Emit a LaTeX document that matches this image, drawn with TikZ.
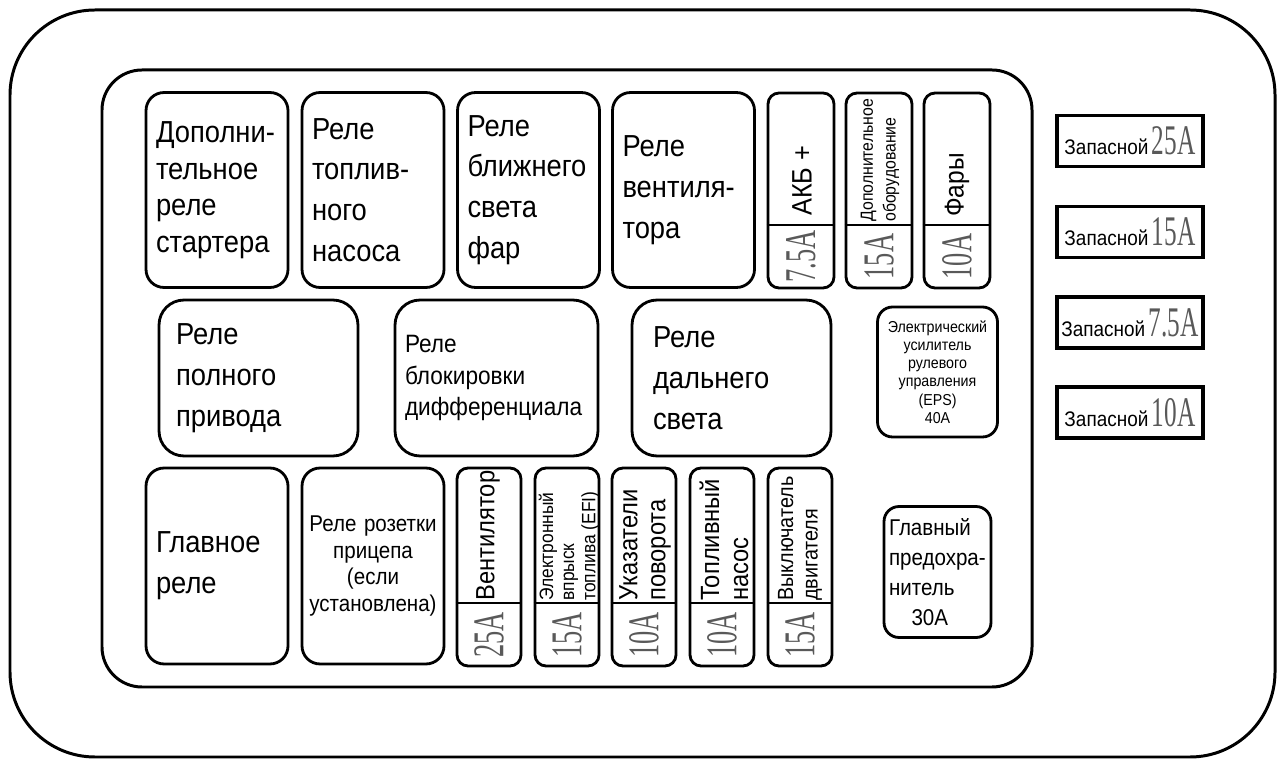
\documentclass[tikz,border=0pt]{standalone}
\usepackage{fontspec}
\setmainfont[FakeStretch=0.9]{Liberation Sans}
\newfontfamily\ampfont[FakeStretch=0.6]{Liberation Serif}

\tikzset{
    frame/.style={draw, line width=1.7pt},
    relay/.style={draw, line width=1.6pt, rounded corners=0.36cm, inner xsep=0.2cm, inner ysep=0pt,
        align=left, text width=2.44cm, minimum width=2.84cm, minimum height=3.9cm,
        font=\fontsize{17.3}{23.2}\selectfont},
    midrelay/.style={relay, rounded corners=0.5cm, minimum width=3.98cm, minimum height=3.12cm},
    fuse/.style={draw, line width=1.6pt, rounded corners=0.22cm, inner sep=0pt},
    amp/.style={rotate=90, inner sep=0pt, text=black!65, font=\ampfont\fontsize{25}{25}\selectfont},
    fusetxt/.style={rotate=90, anchor=west, align=left, inner sep=0pt},
    spare/.style={draw, line width=2.2pt, inner sep=0pt, minimum width=2.92cm, minimum height=1.02cm,
        font=\fontsize{12}{14}\selectfont},
}

\begin{document}
\begin{tikzpicture}[x=0.02cm, y=-0.02cm]

        \useasboundingbox (0,0) rectangle (1277,759);

        \draw[frame, rounded corners=1.7cm] (10,10) rectangle (1275,757);
        \draw[frame, rounded corners=0.8cm] (102,70) rectangle (1032,687);

        % top row
        \node[relay, font=\fontsize{17.3}{20.8}\selectfont] (startrel) at (217,190) {Дополни-\\тельное\\реле\\стартера};
        \node[relay] (fuelrel) at (373,190) {Реле\\топлив-\\ного\\насоса};
        \node[relay] (lowrel) at (528.5,190) {Реле\\ближнего\\света\\фар};
        \node[relay] (fanrel) at (683.5,190) {Реле\\вентиля-\\тора};

        \foreach \n/\x/\a in {%
            akb/801/7.5A,
            aux/879/15A,
            head/957/10A%
        }{
            \node[fuse, minimum width=1.32cm, minimum height=3.9cm] (\n) at (\x,190.5) {};
            \draw[line width=1.4pt] (\n.west |- 0,225) -- (\n.east |- 0,225);
            \node[amp] at (\x,256.5) {\a};
        }
        \node[fusetxt, font=\fontsize{16}{16}\selectfont] at (802,216) {АКБ +};
        \node[fusetxt, font=\fontsize{10}{13}\selectfont] at (880,222) {Дополнительное\\оборудование};
        \node[fusetxt, font=\fontsize{15.5}{16}\selectfont] at (957,217) {Фары};

        % middle row
        \node[midrelay, text width=3.3cm] (awdrel) at (258.5,378) {Реле\\полного\\привода};
        \node[midrelay, text width=3.66cm, font=\fontsize{14.3}{17.9}\selectfont] (diffrel) at (496.5,378) {Реле\\блокировки\\дифференциала};
        \node[midrelay, text width=3.14cm] (highrel) at (731.5,378) {Реле\\дальнего\\света};
        \node[relay, rounded corners=0.3cm, minimum width=2.14cm, minimum height=2.6cm, text width=2cm, align=center,
            font=\fontsize{9}{10.4}\selectfont] (eps) at (937.5,372) {Электрический\\усилитель\\рулевого\\управления\\(EPS)\\40A};

        % bottom row
        \node[relay, minimum height=3.92cm] (mainrel) at (217,566) {Главное\\реле};
        \node[relay, minimum height=3.92cm, text width=2.7cm, inner xsep=0.07cm, align=center,
            font=\fontsize{13}{15.3}\selectfont] (trailrel) at (373,566) {Реле розетки\\прицепа\\(если\\установлена)};

        \foreach \n/\x/\a in {%
            fan/489/25A,
            efi/567/15A,
            turn/644/10A,
            pump/722/10A,
            ign/800/15A%
        }{
            \node[fuse, minimum width=1.28cm, minimum height=3.96cm] (\n) at (\x,567) {};
            \draw[line width=1.4pt] (\n.west |- 0,603) -- (\n.east |- 0,603);
            \node[amp] at (\x,635) {\a};
        }
        \node[fusetxt, font=\fontsize{15}{16}\selectfont] at (488,601) {Вентилятор};
        \node[fusetxt, font=\fontsize{11}{12}\selectfont] at (569,601) {Электронный\\впрыск\\топлива (EFI)};
        \node[fusetxt, font=\fontsize{15}{16}\selectfont] at (645,601) {Указатели\\поворота};
        \node[fusetxt, font=\fontsize{15}{16.5}\selectfont] at (724,601) {Топливный\\насос};
        \node[fusetxt, font=\fontsize{12.5}{14}\selectfont] at (800,601) {Выключатель\\двигателя};

        \node[relay, rounded corners=0.3cm, minimum width=2.14cm, minimum height=2.62cm, inner xsep=0.1cm, text width=1.94cm,
            font=\fontsize{13}{17}\selectfont] (mainfuse) at (937.5,572) {Главный\\\mbox{предохра-}\\нитель\\\hspace*{0.45cm}30A};

        % spares
        \foreach \n/\y/\a in {%
            spa/141/25A,
            spb/232/15A,
            spc/322.5/7.5A,
            spd/412.5/10A%
        }{
            \node[spare] (\n) at (1130,\y) {Запасной\,{\ampfont\fontsize{24}{24}\selectfont\color{black!65}\a}};
        }

    \end{tikzpicture}
\end{document}
